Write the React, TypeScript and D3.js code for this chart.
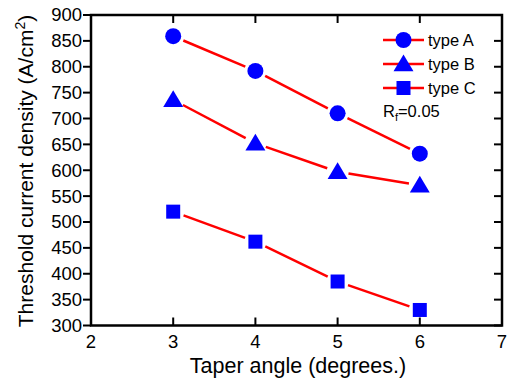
import React from "react";
import * as d3 from "d3";

const taperAngles = [3, 4, 5, 6];
const typeA = [859, 792, 710, 632];
const typeB = [736, 652, 597, 571];
const typeC = [520, 462, 385, 330];
const xTicks = [2, 3, 4, 5, 6, 7];
const yTicks = [300, 350, 400, 450, 500, 550, 600, 650, 700, 750, 800, 850, 900];

const W = 508;
const H = 380;
const left = 91;
const right = 502;
const top = 15;
const bottom = 325.5;

const font = "Arial, 'Liberation Sans', sans-serif";

type Shape = "circle" | "triangle" | "square";

function Marker({ x, y, shape }: { x: number; y: number; shape: Shape }) {
  if (shape === "circle") return <circle cx={x} cy={y} r={8} fill="#0000ff" />;
  if (shape === "square") return <rect x={x - 7} y={y - 7} width={14} height={14} fill="#0000ff" />;
  const s = 9.5;
  return (
    <polygon
      points={`${x},${y - s} ${x + s * 1.05},${y + s * 0.75} ${x - s * 1.05},${y + s * 0.75}`}
      fill="#0000ff"
    />
  );
}

export default function App() {
  const x = d3.scaleLinear().domain([2, 7]).range([left, right]);
  const y = d3.scaleLinear().domain([300, 900]).range([bottom, top]);

  const series: { name: string; values: number[]; shape: Shape }[] = [
    { name: "type A", values: typeA, shape: "circle" },
    { name: "type B", values: typeB, shape: "triangle" },
    { name: "type C", values: typeC, shape: "square" },
  ];

  const gap = 11;
  const segments = (vals: number[]) =>
    vals.slice(1).map((v, i) => {
      const x1 = x(taperAngles[i]);
      const y1 = y(vals[i]);
      const x2 = x(taperAngles[i + 1]);
      const y2 = y(v);
      const len = Math.hypot(x2 - x1, y2 - y1);
      const ux = (x2 - x1) / len;
      const uy = (y2 - y1) / len;
      return (
        <line
          key={i}
          x1={x1 + ux * gap}
          y1={y1 + uy * gap}
          x2={x2 - ux * gap}
          y2={y2 - uy * gap}
          stroke="#ff0000"
          strokeWidth={2.5}
        />
      );
    });

  const legendRows = [40, 64, 88];

  return (
    <svg width={W} height={H} style={{ position: "absolute", left: 0, top: 0 }} fontFamily={font}>
      <rect width={W} height={H} fill="#fff" />
      {/* ticks */}
      {yTicks.map((t) => (
        <g key={"y" + t}>
          <line x1={left - 8} x2={left} y1={y(t)} y2={y(t)} stroke="#000" strokeWidth={2} />
          <line x1={right - 8} x2={right} y1={y(t)} y2={y(t)} stroke="#000" strokeWidth={2} />
          <text x={82} y={y(t)} dy="0.35em" textAnchor="end" fontSize={18.5}>
            {t}
          </text>
        </g>
      ))}
      {xTicks.map((t) => (
        <g key={"x" + t}>
          <line x1={x(t)} x2={x(t)} y1={bottom - 8} y2={bottom} stroke="#000" strokeWidth={2} />
          <line x1={x(t)} x2={x(t)} y1={top} y2={top + 8} stroke="#000" strokeWidth={2} />
          <text x={x(t)} y={348} textAnchor="middle" fontSize={18.5}>
            {t}
          </text>
        </g>
      ))}
      <rect x={left} y={top} width={right - left} height={bottom - top} fill="none" stroke="#000" strokeWidth={2.5} />

      {/* data */}
      {series.map((s) => (
        <g key={s.name}>
          {segments(s.values)}
          {s.values.map((v, i) => (
            <Marker key={i} x={x(taperAngles[i])} y={y(v)} shape={s.shape} />
          ))}
        </g>
      ))}

      {/* legend */}
      {series.map((s, i) => (
        <g key={"l" + s.name}>
          <line x1={383} x2={424} y1={legendRows[i]} y2={legendRows[i]} stroke="#ff0000" strokeWidth={2.5} />
          <Marker x={403.5} y={legendRows[i]} shape={s.shape} />
          <text x={428} y={legendRows[i] + 5.5} fontSize={16.5}>
            {s.name}
          </text>
        </g>
      ))}
      <text x={383} y={117} fontSize={16.5}>
        R<tspan fontSize={11} dy={4}>f</tspan>
        <tspan dy={-4}>=0.05</tspan>
      </text>

      {/* axis titles */}
      <text x={298} y={373} textAnchor="middle" fontSize={21.5}>
        Taper angle (degrees.)
      </text>
      <text transform={`translate(33, 171) rotate(-90)`} textAnchor="middle" fontSize={21}>
        Threshold current density (A/cm<tspan fontSize={14} dy={-8}>2</tspan>
        <tspan dy={8}>)</tspan>
      </text>
    </svg>
  );
}
